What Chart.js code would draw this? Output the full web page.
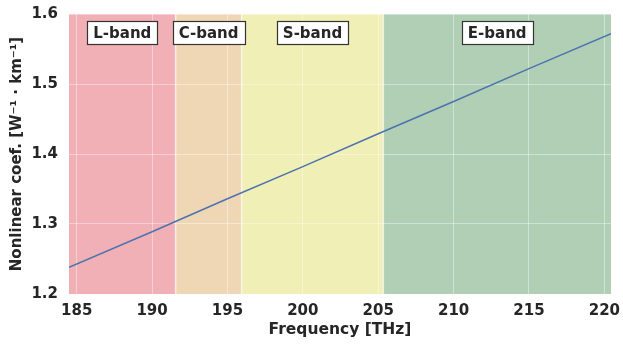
<!DOCTYPE html>
<html>
<head>
<meta charset="utf-8">
<script src="https://cdn.jsdelivr.net/npm/chart.js@4"></script>
<style>
  html, body { margin: 0; padding: 0; background: #fff; }
  #wrap { width: 623px; height: 345px; }
</style>
</head>
<body>
<div id="wrap"><canvas id="chart"></canvas></div>
<script>
// line values (frequency in THz, coefficient in 1/(W km))
var freqs = [184.49, 190, 195, 200, 205, 210, 215, 220.44];
var coefs = [1.238, 1.289, 1.336, 1.382, 1.429, 1.475, 1.522, 1.572];

// band edges (THz) and names
var bandNames = ['L-band', 'C-band', 'S-band', 'E-band'];
var bandEdges = [184.49, 191.56, 195.94, 205.34, 220.44];
var bandColors = ['#f0b0b5', '#efd7b5', '#f0efb5', '#b1cfb5'];
var labelY = 1.573;

var xTicks = [185, 190, 195, 200, 205, 210, 215, 220];
var yTicks = [1.2, 1.3, 1.4, 1.5, 1.6];

var textColor = '#262626';
var fontFam = '"DejaVu Sans", sans-serif';

var points = freqs.map(function(f, i) { return {x: f, y: coefs[i]}; });

var bandsPlugin = {
    id: 'bands',
    beforeDraw: function(chart) {   // colored spans under the grid
        var ctx = chart.ctx, x = chart.scales.x, area = chart.chartArea;
        ctx.save();
        for (var i = 0; i < bandNames.length; i++) {
            var x0 = x.getPixelForValue(bandEdges[i]);
            var x1 = x.getPixelForValue(bandEdges[i + 1]);
            ctx.fillStyle = bandColors[i];
            ctx.fillRect(x0, area.top, x1 - x0, area.bottom - area.top);
        }
        ctx.strokeStyle = 'rgba(255,255,255,0.6)';
        ctx.lineWidth = 1.5;
        for (var j = 1; j < bandEdges.length - 1; j++) {
            var px = x.getPixelForValue(bandEdges[j]);
            ctx.beginPath();
            ctx.moveTo(px, area.top);
            ctx.lineTo(px, area.bottom);
            ctx.stroke();
        }
        ctx.restore();
    },
    afterDatasetsDraw: function(chart) {   // boxed labels
        var ctx = chart.ctx, x = chart.scales.x, y = chart.scales.y;
        ctx.save();
        ctx.font = 'bold 15px ' + fontFam;
        ctx.textAlign = 'center';
        ctx.textBaseline = 'middle';
        for (var i = 0; i < bandNames.length; i++) {
            var cx = x.getPixelForValue((bandEdges[i] + bandEdges[i + 1]) / 2);
            var cy = y.getPixelForValue(labelY);
            var w = Math.round(ctx.measureText(bandNames[i]).width + 12);
            var h = 23;
            var bx = Math.round(cx - w / 2), by = Math.round(cy - h / 2);
            ctx.fillStyle = '#ffffff';
            ctx.fillRect(bx, by, w, h);
            ctx.strokeStyle = '#333333';
            ctx.lineWidth = 1.2;
            ctx.strokeRect(bx + 0.5, by + 0.5, w, h);
            ctx.fillStyle = textColor;
            ctx.fillText(bandNames[i], cx, cy + 1);
        }
        ctx.restore();
    }
};

new Chart(document.getElementById('chart'), {
    type: 'line',
    data: {
        datasets: [{
            data: points,
            borderColor: '#4c72b0',
            borderWidth: 1.5,
            pointRadius: 0,
            fill: false,
            tension: 0
        }]
    },
    options: {
        responsive: true,
        maintainAspectRatio: false,
        animation: false,
        events: [],
        layout: { padding: { left: 8, right: 12, top: 14, bottom: 0 } },
        plugins: { legend: { display: false }, tooltip: { enabled: false } },
        scales: {
            x: {
                type: 'linear',
                min: bandEdges[0],
                max: bandEdges[bandEdges.length - 1],
                afterBuildTicks: function(s) { s.ticks = xTicks.map(function(v) { return {value: v}; }); },
                afterFit: function(s) { s.height = 51; s.paddingLeft = 0; s.paddingRight = 0; },
                grid: { color: 'rgba(255,255,255,0.4)', lineWidth: 1, drawTicks: false },
                border: { display: false },
                ticks: {
                    padding: 8,
                    color: textColor,
                    font: { family: fontFam, size: 15, weight: 'bold' },
                    maxRotation: 0,
                    callback: function(v) { return v; }
                },
                title: {
                    display: true,
                    text: 'Frequency [THz]',
                    color: textColor,
                    font: { family: fontFam, size: 15.5, weight: 'bold' },
                    padding: { top: 0, bottom: 6 }
                }
            },
            y: {
                min: yTicks[0],
                max: yTicks[yTicks.length - 1],
                afterBuildTicks: function(s) { s.ticks = yTicks.map(function(v) { return {value: v}; }); },
                afterFit: function(s) { s.width = 61; s.paddingTop = 0; s.paddingBottom = 0; },
                grid: { color: 'rgba(255,255,255,0.4)', lineWidth: 1, drawTicks: false },
                border: { display: false },
                ticks: {
                    padding: 11,
                    color: textColor,
                    font: { family: fontFam, size: 15, weight: 'bold' },
                    callback: function(v) { return Number(v).toFixed(1); }
                },
                title: {
                    display: true,
                    text: 'Nonlinear coef. [W\u207B\u00B9 \u00B7 km\u207B\u00B9]',
                    color: textColor,
                    font: { family: fontFam, size: 15, weight: 'bold' },
                    padding: { top: 0, bottom: 0 }
                }
            }
        }
    },
    plugins: [bandsPlugin]
});
</script>
</body>
</html>
